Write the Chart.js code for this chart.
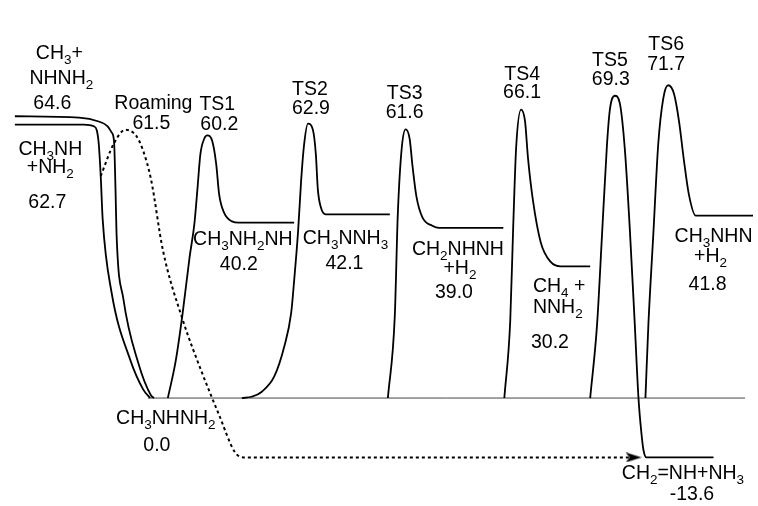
<!DOCTYPE html>
<html lang="en">
<head>
<meta charset="UTF-8">
<title>CH3NHNH2 potential energy surface</title>
<script src="https://cdn.jsdelivr.net/npm/chart.js"></script>
<style>
  html, body { margin: 0; padding: 0; background: #fff; }
  #wrap { width: 758px; height: 506px; }
</style>
</head>
<body>
<div id="wrap"><canvas id="pes" width="758" height="506"></canvas></div>
<script>
// relative energies, kcal/mol ("_" marks a subscript digit, "|" a line break)
const channelNames = ["CH_3+|NHNH_2", "CH_3NH|+NH_2"];
const channelEnergies = [64.6, 62.7];
const wellName = "CH_3NHNH_2";
const wellEnergy = 0.0;
const roamingName = "Roaming";
const roamingEnergy = 61.5;
const tsNames = ["TS1", "TS2", "TS3", "TS4", "TS5", "TS6"];
const tsEnergies = [60.2, 62.9, 61.6, 66.1, 69.3, 71.7];
const productNames = ["CH_3NH_2NH", "CH_3NNH_3", "CH_2NHNH|+H_2", "CH_4 +|NNH_2", "CH_2=NH+NH_3", "CH_3NHN|+H_2"];
const productEnergies = [40.2, 42.1, 39.0, 30.2, -13.6, 41.8];

// reaction coordinate (arbitrary units) of each barrier top
const tsCoord = [205, 307, 406, 523, 618, 672];

const [eA, eB] = channelEnergies;
const w = wellEnergy;
const [t1, t2, t3, t4, t5, t6] = tsEnergies;
const [p1, p2, p3, p4, p5, p6] = productEnergies;

// curve shapes as [coordinate, energy]
const pathA = [[10, eA], [75, 64.3], [95, 63.4], [104, 62.3], [108, 60.9], [110.5, 58.8], [112, 47.7], [113, 37.9], [120, 22.7], [135, 8.1], [148, 0.6], [151, w]];
const pathB = [[10, eB], [80, eB], [90, 62.3], [93, 61.4], [95, 58.3], [97, 50.9], [99, 40.9], [108, 24.2], [127, 8.7], [140, 2.0], [147, w]];
const pathTS1 = [[165, w], [173, 8.5], [180, 19.4], [187, 32.2], [192, 40.1], [195, 47.9], [198, 55.9], [202, 59.5], [tsCoord[0], t1], [210, 58.9], [214, 53.7], [217, 46.7], [222, 42.5], [230, 40.5], [237, p1], [293, p1]];
const pathTS2 = [[240, w], [250, 0.3], [260, 1.4], [273, 5.0], [283, 11.8], [290, 19.5], [293, 26.9], [297, 38.2], [300, 49.5], [303, 57.9], [tsCoord[1], t2], [312, 61.5], [315, 55.9], [317, 47.9], [320, 43.8], [325, p2], [390, p2]];
const pathTS3 = [[388, w], [395, 18.8], [398, 41.8], [402, 57.2], [tsCoord[2], t3], [410, 59.5], [413, 53.1], [417, 46.1], [423, 41.4], [433, 39.5], [440, p3], [505, p3]];
const pathTS4 = [[506, w], [512, 17.7], [515, 39.3], [518, 57.5], [tsCoord[3], t4], [527, 63.4], [530, 55.0], [535, 45.3], [543, 35.6], [553, 31.2], [563, p4], [593, p4]];
const pathTS5 = [[593, w], [600, 16.9], [605, 37.4], [610, 58.0], [613, 66.2], [tsCoord[4], t5], [623, 67.6], [628, 57.4], [633, 39.4], [638, 17.8], [642, -0.2], [645, -8.2], [647, -11.9], [650, p5], [718, p5]];
const pathTS6 = [[649, w], [652, 16.9], [657, 37.6], [662, 58.3], [667, 68.6], [tsCoord[5], t6], [678, 69.7], [683, 63.5], [688, 54.5], [693, 46.7], [700, p6], [758, p6]];
const pathRoam = [[97, 50.9], [110, 58.2], [122, roamingEnergy], [133, 60.1], [140, 56.7], [148, 50.1], [160, 33.9], [180, 18.0], [200, 5.6], [217, -3.9], [233, -12.4], [242, p5], [637, p5]];
const pathBase = [[145, w], [750, w]];

const toXY = path => path.map(([x, y]) => ({ x: x, y: y }));
const fmt = v => v.toFixed(1);

// arrow head for the roaming path
const arrowHead = document.createElement('canvas');
arrowHead.width = 16;
arrowHead.height = 10;
const ac = arrowHead.getContext('2d');
ac.fillStyle = '#000';
ac.beginPath();
ac.moveTo(0, 0);
ac.lineTo(16, 5);
ac.lineTo(0, 10);
ac.lineTo(4, 5);
ac.closePath();
ac.fill();

function curve(path) {
  return {
    data: toXY(path),
    borderColor: '#000',
    borderWidth: 1.8,
    pointRadius: 0,
    cubicInterpolationMode: 'monotone',
    fill: false
  };
}

const datasets = [pathA, pathB, pathTS1, pathTS2, pathTS3, pathTS4, pathTS5, pathTS6].map(curve);
datasets.push({
  data: toXY(pathBase),
  borderColor: '#444',
  borderWidth: 1,
  pointRadius: 0,
  tension: 0
});
datasets.push({
  data: toXY(pathRoam),
  borderColor: '#000',
  borderWidth: 2,
  borderDash: [3, 3],
  cubicInterpolationMode: 'monotone',
  pointRadius: c => (c.dataIndex === pathRoam.length - 1 ? 5 : 0),
  pointStyle: c => (c.dataIndex === pathRoam.length - 1 ? arrowHead : 'circle'),
  pointBackgroundColor: '#000',
  pointBorderWidth: 0
});

// text labels: anchored to a mark, offsets in px per line
const labels = [];
function addLabel(name, value, x, e, offs, align) {
  labels.push({ lines: name.split('|').concat(fmt(value)), x: x, e: e, offs: offs, align: align || 'center' });
}
addLabel(channelNames[0], eA, 50, eA, [[5, -64], [7, -39], [-2, -14]]);
addLabel(channelNames[1], eB, 50, eB, [[-4, 23], [-4, 41], [-7, 76]]);
addLabel(roamingName, roamingEnergy, 122, roamingEnergy, [[28, -28], [26, -8]]);
addLabel(wellName, w, 163, w, [[0, 18.5], [-9, 45.5]]);

const tsOffs = [
  [[10, -32], [12, -12]],
  [[2, -36], [3, -17]],
  [[-1, -37], [-1, -18]],
  [[1, -37], [1, -19]],
  [[-5, -37], [-4, -17.5]],
  [[-2, -42], [-2, -22.5]]
];
tsNames.forEach((n, i) => addLabel(n, tsEnergies[i], tsCoord[i], tsEnergies[i], tsOffs[i]));

const prodAt = [241, 345, 459, 535, 687, 718];
const prodOffs = [
  [[0, 15.5], [-4, 40.5]],
  [[0, 23], [-1, 48]],
  [[0, 20.5], [2, 39.5], [-4, 63.5]],
  [[0, 18.5], [0, 39.5], [-2, 74.5]],
  [[0, 15], [9, 35.5]],
  [[0, 19.5], [-3, 39.5], [-6, 67]]
];
productNames.forEach((n, i) => addLabel(n, productEnergies[i], prodAt[i], productEnergies[i], prodOffs[i], i === 3 ? 'left' : 'center'));

const MAIN_FONT = '19.5px "Liberation Sans", Arial, sans-serif';
const SUB_FONT = '13.5px "Liberation Sans", Arial, sans-serif';

function drawFormula(ctx, str, cx, cy, align) {
  const runs = [];
  for (let i = 0; i < str.length; i++) {
    if (str[i] === '_') { runs.push({ t: str[i + 1], sub: true }); i++; }
    else runs.push({ t: str[i], sub: false });
  }
  let width = 0;
  runs.forEach(r => {
    ctx.font = r.sub ? SUB_FONT : MAIN_FONT;
    r.w = ctx.measureText(r.t).width;
    width += r.w;
  });
  let x = align === 'left' ? cx : cx - width / 2;
  const base = cy + 7;
  runs.forEach(r => {
    ctx.font = r.sub ? SUB_FONT : MAIN_FONT;
    ctx.fillText(r.t, x, r.sub ? base + 5 : base);
    x += r.w;
  });
}

const labelPlugin = {
  id: 'pesLabels',
  afterDatasetsDraw(chart) {
    const ctx = chart.ctx;
    const xs = chart.scales.x, ys = chart.scales.y;
    ctx.save();
    ctx.fillStyle = '#000';
    ctx.textBaseline = 'alphabetic';
    ctx.textAlign = 'left';
    labels.forEach(l => {
      const px = xs.getPixelForValue(l.x), py = ys.getPixelForValue(l.e);
      l.lines.forEach((line, k) => {
        drawFormula(ctx, line, px + l.offs[k][0], py + l.offs[k][1], l.align);
      });
    });
    ctx.restore();
  }
};

new Chart(document.getElementById('pes'), {
  type: 'line',
  data: { datasets: datasets },
  options: {
    responsive: false,
    devicePixelRatio: 1,
    animation: false,
    events: [],
    layout: { padding: 0 },
    plugins: { legend: { display: false }, tooltip: { enabled: false } },
    scales: {
      x: { type: 'linear', min: 0, max: 758, display: false },
      y: { type: 'linear', min: -23.6, max: 90.1, display: false }
    }
  },
  plugins: [labelPlugin]
});
</script>
</body>
</html>
